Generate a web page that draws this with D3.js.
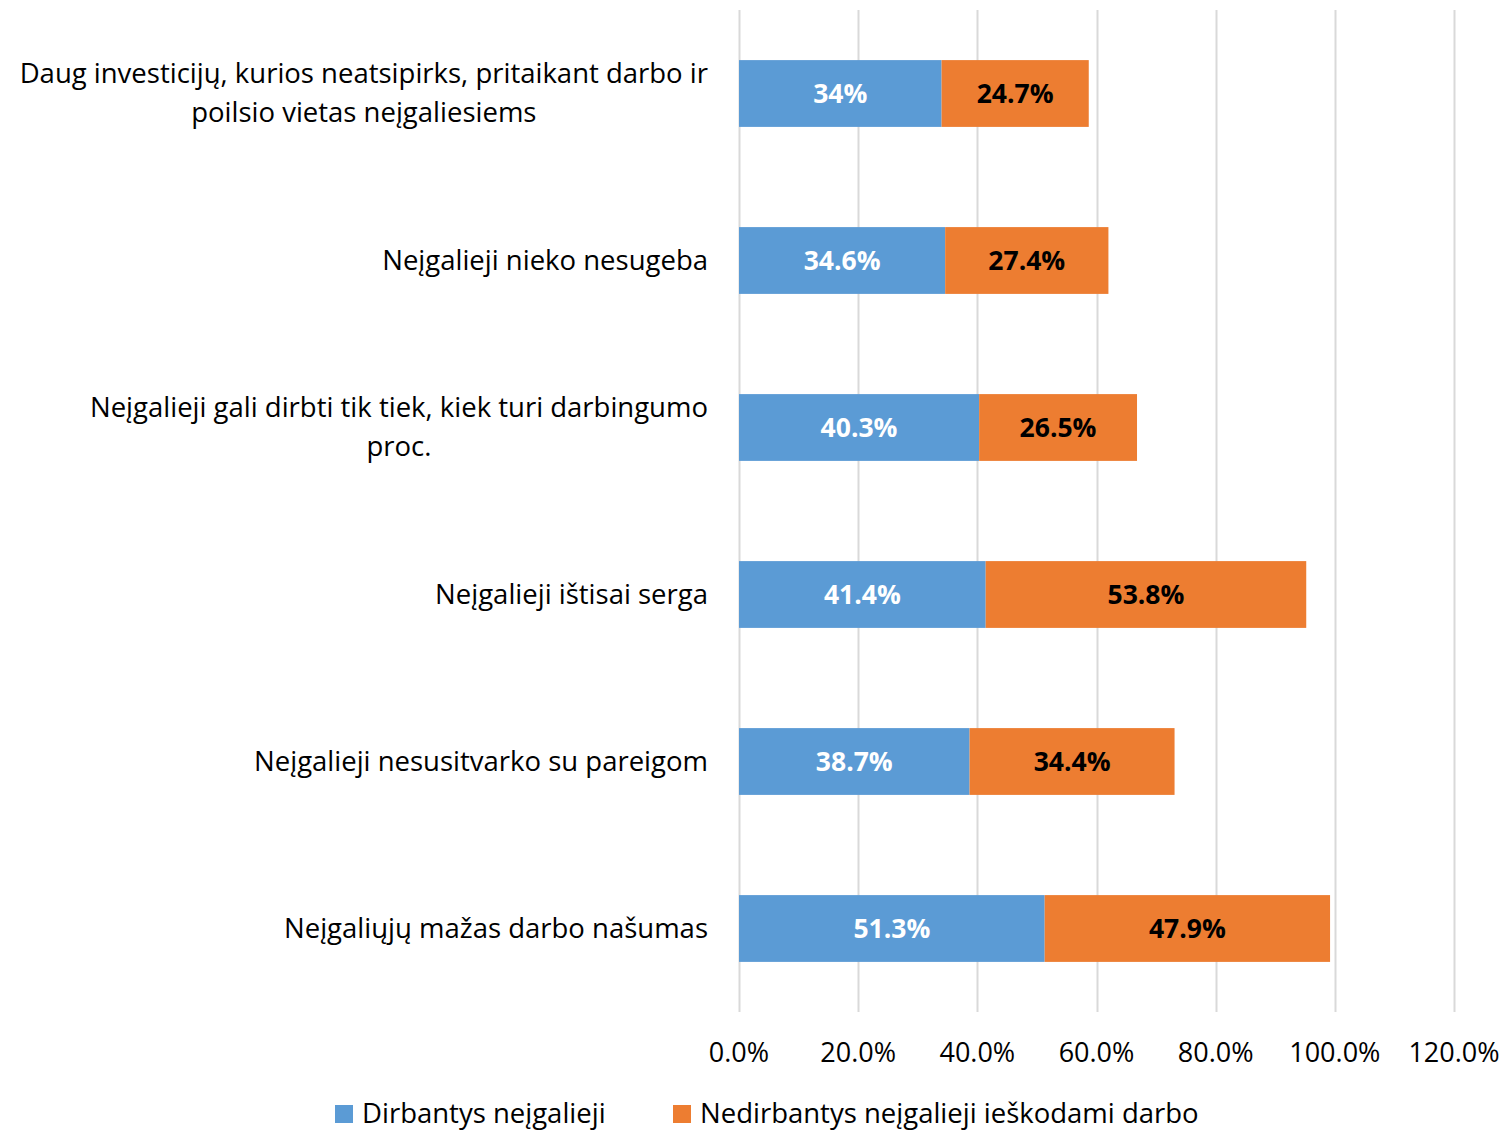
<!DOCTYPE html>
<html>
<head>
<meta charset="utf-8">
<script src="https://cdn.jsdelivr.net/npm/d3@7"></script>
<style>
  body { margin: 0; background: #fff; }
  text { font-family: "Open Sans", Lato, sans-serif; }
</style>
</head>
<body>
<svg id="chart" width="1506" height="1130"></svg>
<script>
// data, top to bottom
const categories = [
  "Daug investicijų, kurios neatsipirks, pritaikant darbo ir|poilsio vietas neįgaliesiems",
  "Neįgalieji nieko nesugeba",
  "Neįgalieji gali dirbti tik tiek, kiek turi darbingumo|proc.",
  "Neįgalieji ištisai serga",
  "Neįgalieji nesusitvarko su pareigom",
  "Neįgaliųjų mažas darbo našumas"
];
const working = [34, 34.6, 40.3, 41.4, 38.7, 51.3];
const notWorking = [24.7, 27.4, 26.5, 53.8, 34.4, 47.9];
const workingLabels = ["34%", "34.6%", "40.3%", "41.4%", "38.7%", "51.3%"];
const notWorkingLabels = ["24.7%", "27.4%", "26.5%", "53.8%", "34.4%", "47.9%"];
const seriesNames = ["Dirbantys neįgalieji", "Nedirbantys neįgalieji ieškodami darbo"];
const ticks = [0, 20, 40, 60, 80, 100, 120];

const colors = ["#5B9BD5", "#ED7D31"];
const fsText = 27.5;
const fsTick = 27;
const fsValue = 26.5;

const svg = d3.select("#chart");

const x = d3.scaleLinear().domain([0, 120]).range([739, 1454]);
const y = d3.scaleBand().domain(d3.range(categories.length)).range([10, 1012]).paddingInner(0.6).paddingOuter(0.3);

// gridlines
svg.append("g")
  .selectAll("line")
  .data(ticks).enter()
  .append("line")
  .attr("x1", d => Math.round(x(d)) + 0.5)
  .attr("x2", d => Math.round(x(d)) + 0.5)
  .attr("y1", 10)
  .attr("y2", 1012)
  .attr("stroke", "#D9D9D9")
  .attr("stroke-width", 2);

// tick labels
svg.append("g")
  .selectAll("text")
  .data(ticks).enter()
  .append("text")
  .attr("x", d => x(d))
  .attr("y", 1062)
  .attr("text-anchor", "middle")
  .attr("font-size", fsTick)
  .attr("fill", "#000")
  .text(d => d.toFixed(1) + "%");

const rows = categories.map((c, i) => ({
  i: i,
  a: working[i], b: notWorking[i],
  la: workingLabels[i], lb: notWorkingLabels[i]
}));

// blue segments
svg.append("g").selectAll("rect")
  .data(rows).enter()
  .append("rect")
  .attr("x", d => x(0))
  .attr("y", d => y(d.i))
  .attr("width", d => x(d.a) - x(0))
  .attr("height", y.bandwidth())
  .attr("fill", colors[0]);

// orange segments
svg.append("g").selectAll("rect")
  .data(rows).enter()
  .append("rect")
  .attr("x", d => x(d.a))
  .attr("y", d => y(d.i))
  .attr("width", d => x(d.a + d.b) - x(d.a))
  .attr("height", y.bandwidth())
  .attr("fill", colors[1]);

// value labels
svg.append("g").selectAll("text")
  .data(rows).enter()
  .append("text")
  .attr("x", d => (x(0) + x(d.a)) / 2)
  .attr("y", d => y(d.i) + y.bandwidth() / 2 + 9)
  .attr("text-anchor", "middle")
  .attr("font-size", fsValue)
  .attr("font-weight", "bold")
  .attr("fill", "#fff")
  .text(d => d.la);

svg.append("g").selectAll("text")
  .data(rows).enter()
  .append("text")
  .attr("x", d => (x(d.a) + x(d.a + d.b)) / 2)
  .attr("y", d => y(d.i) + y.bandwidth() / 2 + 9)
  .attr("text-anchor", "middle")
  .attr("font-size", fsValue)
  .attr("font-weight", "bold")
  .attr("fill", "#000")
  .text(d => d.lb);

// category labels, multi-line ones centred within the widest line
const labelRight = 708;
const lineH = 39;
categories.forEach((c, i) => {
  const lines = c.split("|");
  const g = svg.append("g");
  const cy = y(i) + y.bandwidth() / 2;
  const texts = lines.map((l, j) => g.append("text")
    .attr("y", cy + (j - (lines.length - 1) / 2) * lineH + 9)
    .attr("font-size", fsText)
    .attr("fill", "#000")
    .text(l));
  const maxW = d3.max(texts, t => t.node().getComputedTextLength());
  texts.forEach(t => t.attr("x", labelRight - maxW / 2).attr("text-anchor", "middle"));
});

// legend
const legend = [
  {name: seriesNames[0], color: colors[0], x: 335},
  {name: seriesNames[1], color: colors[1], x: 673}
];
const lg = svg.append("g").selectAll("g")
  .data(legend).enter()
  .append("g");
lg.append("rect")
  .attr("x", d => d.x)
  .attr("y", 1105)
  .attr("width", 18)
  .attr("height", 18)
  .attr("fill", d => d.color);
lg.append("text")
  .attr("x", d => d.x + 27)
  .attr("y", 1123)
  .attr("font-size", fsText)
  .attr("fill", "#000")
  .text(d => d.name);
</script>
</body>
</html>
